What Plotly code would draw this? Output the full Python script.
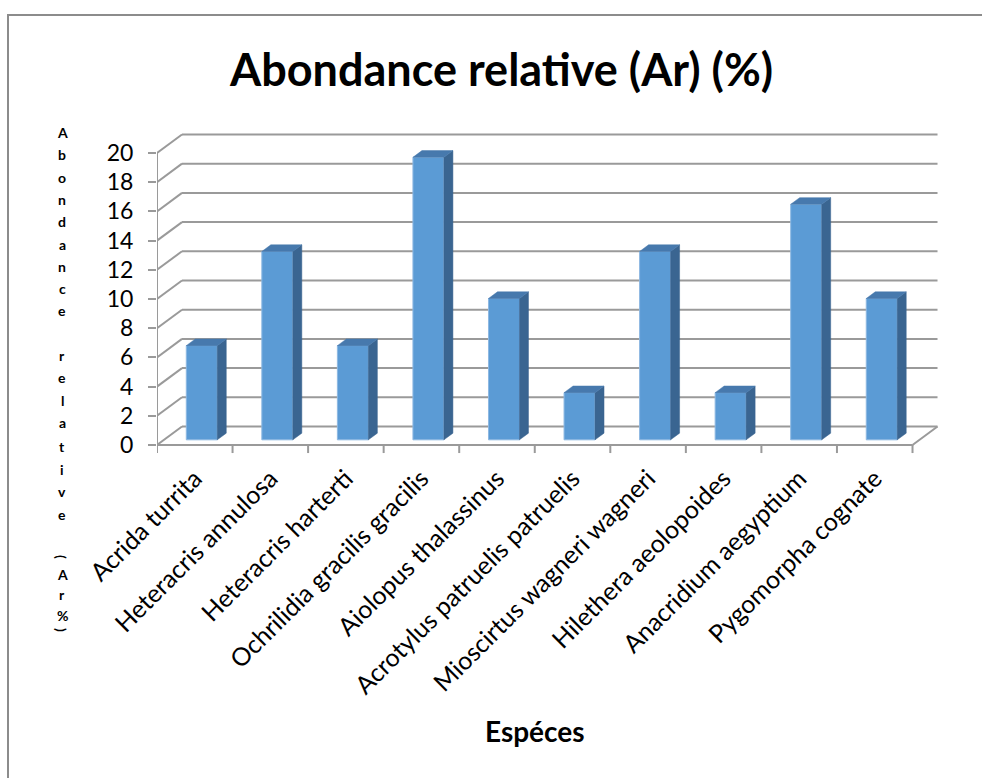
import plotly.graph_objects as go

# Relative abundance (%) of each grasshopper species
species = [
    "Acrida turrita",
    "Heteracris annulosa",
    "Heteracris harterti",
    "Ochrilidia gracilis gracilis",
    "Aiolopus thalassinus",
    "Acrotylus patruelis patruelis",
    "Mioscirtus wagneri wagneri",
    "Hilethera aeolopoides",
    "Anacridium aegyptium",
    "Pygomorpha cognate",
]
abundance = [6.45, 12.90, 6.45, 19.35, 9.68, 3.23, 12.90, 3.23, 16.13, 9.68]
y_ticks = [0, 2, 4, 6, 8, 10, 12, 14, 16, 18, 20]

W, H = 982, 778
M_L, M_R, M_T, M_B = 157, 37, 128, 320
X_RANGE = [-0.5, 9.93]
Y_RANGE = [-0.89, 21.71]

# pseudo-3D depth of the chart box (in axis units)
DEPTH_X, DEPTH_Y = 0.331, 1.267
BAR_FRONT = 0.28      # depth fraction where bar front faces sit
BAR_DEPTH = 0.36      # depth fraction taken by each bar
BAR_W = 0.41
TICK_DOWN = 0.55

GRID = "#9a9a9a"
FRONT = "#5b9bd5"
SIDE = "#3a6591"
TOP = "#4779ad"
FONT = "Lato"

n = len(species)
x_left, x_right = -0.5, n - 0.5

shapes = []


def seg(x0, y0, x1, y1):
    shapes.append(dict(type="line", xref="x", yref="y", x0=x0, y0=y0, x1=x1, y1=y1,
                       line=dict(color=GRID, width=2), layer="below"))


# wall gridlines: left wall diagonal then across the back wall
for v in y_ticks:
    seg(x_left, v, x_left + DEPTH_X, v + DEPTH_Y)
    seg(x_left + DEPTH_X, v + DEPTH_Y, x_right + DEPTH_X, v + DEPTH_Y)

# front value axis, floor edges and category boundary ticks
seg(x_left, y_ticks[-1], x_left, -TICK_DOWN)
seg(x_left, 0, x_right, 0)
seg(x_right, 0, x_right + DEPTH_X, DEPTH_Y)
for k in range(1, n + 1):
    seg(k - 0.5, 0, k - 0.5, -TICK_DOWN)

fig = go.Figure()

# bar front faces
base = BAR_FRONT * DEPTH_Y
front_x = [i + BAR_FRONT * DEPTH_X for i in range(n)]
fig.add_trace(go.Bar(x=front_x, y=abundance, base=base, width=BAR_W,
                     marker=dict(color=FRONT, line=dict(color="#8db8e2", width=1)),
                     hoverinfo="skip"))

# bar side and top faces
ddx, ddy = BAR_DEPTH * DEPTH_X, BAR_DEPTH * DEPTH_Y
sx, sy, tx, ty = [], [], [], []
for xc, v in zip(front_x, abundance):
    xl, xr = xc - BAR_W / 2, xc + BAR_W / 2
    top = base + v
    sx += [xr, xr + ddx, xr + ddx, xr, xr, None]
    sy += [base, base + ddy, top + ddy, top, base, None]
    tx += [xl, xr, xr + ddx, xl + ddx, xl, None]
    ty += [top, top, top + ddy, top + ddy, top, None]
fig.add_trace(go.Scatter(x=sx, y=sy, mode="lines", fill="toself", fillcolor=SIDE,
                         line=dict(color=SIDE, width=0.5), hoverinfo="skip"))
fig.add_trace(go.Scatter(x=tx, y=ty, mode="lines", fill="toself", fillcolor=TOP,
                         line=dict(color=TOP, width=0.5), hoverinfo="skip"))

fig.update_xaxes(range=X_RANGE, tickmode="array", tickvals=list(range(n)),
                 ticktext=species, tickangle=-45, ticks="", showgrid=False,
                 zeroline=False, showline=False, automargin=False,
                 tickfont=dict(family=FONT, size=25, color="#000000"))
fig.update_yaxes(range=Y_RANGE, tickmode="array", tickvals=y_ticks,
                 ticks="outside", ticklen=8, tickwidth=2, tickcolor=GRID,
                 ticklabelstandoff=10, automargin=False,
                 showgrid=False, zeroline=False, showline=False,
                 tickfont=dict(family=FONT, size=23, color="#000000"))


def paper_x(px):
    return (px - M_L) / (W - M_L - M_R)


def paper_y(py):
    return (H - M_B - py) / (H - M_T - M_B)


annotations = [
    dict(text="<b>Abondance relative (Ar) (%)</b>", x=paper_x(501), y=paper_y(69),
         font=dict(family=FONT, size=45, color="#000000")),
    dict(text="<b>Espéces</b>", x=paper_x(535), y=paper_y(731),
         font=dict(family=FONT, size=28, color="#000000")),
]

# stacked vertical axis title, one character per line
stacked = [("A", 132), ("b", 154), ("o", 177), ("n", 199), ("d", 221), ("a", 244),
           ("n", 266), ("c", 288), ("e", 310), ("r", 355), ("e", 377), ("l", 400),
           ("a", 422), ("t", 446), ("i", 469), ("v", 491), ("e", 514),
           ("(", 557), ("A", 574), ("r", 594), ("%", 615), (")", 630)]
for ch, py in stacked:
    annotations.append(dict(text=f"<b>{ch}</b>", x=paper_x(62), y=paper_y(py),
                            textangle=90 if ch in "()" else 0,
                            font=dict(family=FONT, size=14, color="#000000")))
for a in annotations:
    a.update(xref="paper", yref="paper", showarrow=False,
             xanchor="center", yanchor="middle")

shapes.append(dict(type="rect", xref="paper", yref="paper",
                   x0=paper_x(8), y0=paper_y(15), x1=paper_x(995), y1=paper_y(790),
                   line=dict(color="#8c8c8c", width=2), fillcolor="rgba(0,0,0,0)",
                   layer="below"))

fig.update_layout(
    width=W, height=H,
    margin=dict(l=M_L, r=M_R, t=M_T, b=M_B),
    paper_bgcolor="white", plot_bgcolor="white",
    showlegend=False,
    annotations=annotations,
    shapes=shapes,
)

fig.write_html("out.html")
